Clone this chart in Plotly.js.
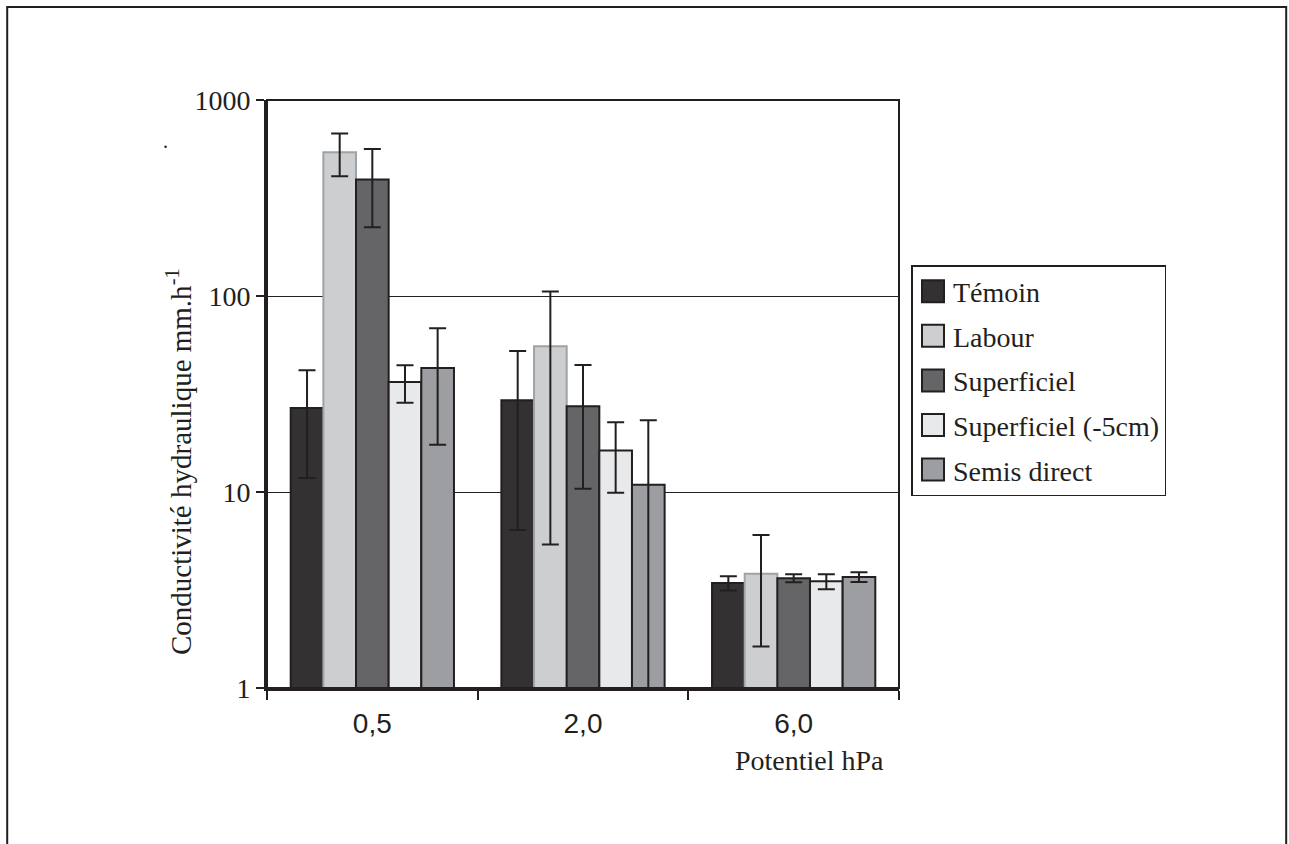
<!DOCTYPE html>
<html>
<head>
<meta charset="utf-8">
<script src="https://cdn.plot.ly/plotly-3.0.1.min.js"></script>
<style>
html,body{margin:0;padding:0;background:#fff;}
#chart{width:1289px;height:844px;}
</style>
</head>
<body>
<div id="chart"></div>
<script>
// ---- Data ----
var categories = ["0,5", "2,0", "6,0"];
var seriesNames = ["Témoin", "Labour", "Superficiel", "Superficiel (-5cm)", "Semis direct"];
var temoin = [26.8, 29.4, 3.43];
var temoinErr = [15, 23, 0.29];
var labour = [541, 55.4, 3.83];
var labourErr = [133, 50, 2.2];
var superficiel = [393, 27.4, 3.63];
var superficielErr = [169, 17, 0.17];
var superficiel5 = [36.4, 16.3, 3.50];
var superficiel5Err = [7.9, 6.4, 0.31];
var semisDirect = [42.9, 10.9, 3.68];
var semisDirectErr = [25.5, 12.3, 0.21];
var yTickVals = [1, 10, 100, 1000];
var yTickText = ["1", "10", "100", "1000"];
var yTitle = "Conductivité hydraulique mm.h<sup>-1</sup>";
var xTitle = "Potentiel hPa";

var ink = "#231f20";
var serif = "Liberation Serif, Times New Roman, serif";
var sans = "Liberation Sans, Arial, sans-serif";

var fills = ["#333132", "#cdced0", "#656567", "#e8e9eb", "#9d9ea1"];
var outlines = [ink, "#9ea3a8", ink, ink, ink];
var values = [temoin, labour, superficiel, superficiel5, semisDirect];
var errs = [temoinErr, labourErr, superficielErr, superficiel5Err, semisDirectErr];

var traces = values.map(function (v, i) {
  return {
    type: "bar",
    name: seriesNames[i],
    legendgroup: "g" + i,
    x: categories,
    y: v,
    marker: { color: fills[i], line: { color: outlines[i], width: 2 } },
    error_y: { type: "data", array: errs[i], symmetric: true, visible: true,
               color: ink, thickness: 2, width: 8.5 }
  };
});

// plot area: x 267 -> 899.5, y 100 -> 688
var L = 267, R = 899.5, T = 100, B = 688, W = 1289, H = 844;
function px(x) { return (x - L) / (R - L); }
function py(y) { return (B - y) / (B - T); }

var layout = {
  width: W, height: H,
  margin: { l: L, r: W - R, t: T, b: H - B, pad: 0 },
  paper_bgcolor: "#ffffff",
  plot_bgcolor: "#ffffff",
  barmode: "group",
  bargap: 0.225,
  bargroupgap: 0,
  showlegend: true,
  legend: {
    x: px(912), xanchor: "left",
    y: py(265), yanchor: "top",
    bgcolor: "#ffffff",
    bordercolor: ink, borderwidth: 1.5,
    font: { family: serif, size: 28, color: ink },
    tracegroupgap: 5.2,
    traceorder: "grouped"
  },
  xaxis: {
    type: "category",
    tickson: "boundaries",
    ticks: "outside", ticklen: 9, tickwidth: 2, tickcolor: ink,
    ticklabelstandoff: 8,
    showline: true, linecolor: ink, linewidth: 3,
    showgrid: false, zeroline: false,
    tickfont: { family: sans, size: 28, color: ink },
    fixedrange: true
  },
  yaxis: {
    type: "log",
    range: [0, 3],
    tickvals: yTickVals,
    ticktext: yTickText,
    ticks: "outside", ticklen: 8, tickwidth: 2, tickcolor: ink,
    showline: true, linecolor: ink, linewidth: 3,
    showgrid: true, gridcolor: ink, gridwidth: 1,
    zeroline: false,
    tickfont: { family: serif, size: 28, color: ink },
    fixedrange: true
  },
  shapes: [
    { type: "rect", xref: "paper", yref: "paper", x0: 0, x1: 1, y0: 0, y1: 1,
      line: { color: ink, width: 2 }, layer: "above" },
    { type: "rect", xref: "paper", yref: "paper",
      x0: px(7), x1: px(1287), y0: py(7), y1: py(900),
      line: { color: ink, width: 2 } }
  ],
  annotations: [
    { text: yTitle, xref: "paper", yref: "paper", textangle: -90,
      x: px(179), y: py(462), xanchor: "center", yanchor: "middle",
      showarrow: false, font: { family: serif, size: 29, color: ink } },
    { text: xTitle, xref: "paper", yref: "paper",
      x: px(810), y: py(760), xanchor: "center", yanchor: "middle",
      showarrow: false, font: { family: serif, size: 28, color: ink } },
    { text: ".", xref: "paper", yref: "paper",
      x: px(165), y: py(154), xanchor: "center", yanchor: "bottom",
      showarrow: false, font: { family: serif, size: 20, color: ink } }
  ]
};

Plotly.newPlot("chart", traces, layout, { displayModeBar: false, staticPlot: true }).then(function (gd) {
  // enlarge the legend swatches to match the reference's square keys
  var pts = gd.querySelectorAll(".legend .legendpoints path");
  pts.forEach(function (p) {
    p.setAttribute("d", "M11,11H-11V-11H11Z");
    p.style.stroke = ink;
    p.style.strokeWidth = "2px";
  });
});
</script>
</body>
</html>
